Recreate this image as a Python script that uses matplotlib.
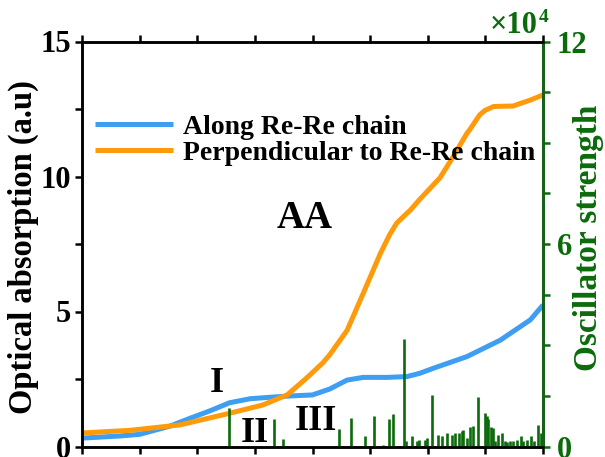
import numpy as np
import matplotlib
matplotlib.use("Agg")
import matplotlib.pyplot as plt
from matplotlib.ticker import MultipleLocator

plt.rcParams['font.family'] = ['Liberation Serif', 'DejaVu Serif']
plt.rcParams['font.weight'] = 'bold'

# absorption spectra (energy in eV, absorption in a.u.)
e_along = [0.0, 0.33, 0.50, 0.76, 0.94, 1.11, 1.28, 1.46, 1.62, 1.80, 2.00,
           2.15, 2.30, 2.44, 2.65, 2.82, 2.93, 3.05, 3.34, 3.63, 3.89, 4.0]
abs_along = [0.31, 0.39, 0.45, 0.75, 1.05, 1.32, 1.62, 1.77, 1.82, 1.87, 1.91,
             2.13, 2.46, 2.56, 2.56, 2.59, 2.71, 2.90, 3.33, 3.94, 4.69, 5.24]

e_perp = [0.0, 0.42, 0.85, 1.28, 1.57, 1.78, 1.95, 2.09, 2.15, 2.30, 2.44, 2.59,
          2.67, 2.73, 2.785, 2.85, 2.93, 3.02, 3.106, 3.22, 3.34, 3.367, 3.45,
          3.497, 3.57, 3.627, 3.74, 3.80, 3.89, 3.93, 4.0]
abs_perp = [0.50, 0.60, 0.80, 1.23, 1.54, 1.91, 2.54, 3.10, 3.40, 4.30, 5.67, 7.16,
            7.85, 8.27, 8.50, 8.76, 9.15, 9.56, 9.95, 10.73, 11.60, 11.75, 12.28,
            12.45, 12.59, 12.60, 12.61, 12.70, 12.83, 12.90, 13.02]

# oscillator strengths (x 1e4)
e_osc = [1.276, 1.662, 1.747, 2.234, 2.331, 2.458, 2.534, 2.611, 2.660, 2.699,
         2.792, 2.814, 2.861, 2.904, 2.927, 2.976, 2.991, 3.034, 3.092, 3.121,
         3.164, 3.208, 3.236, 3.274, 3.295, 3.308, 3.338, 3.367, 3.390, 3.439,
         3.497, 3.512, 3.525, 3.546, 3.564, 3.584, 3.612, 3.642, 3.670, 3.690,
         3.714, 3.742, 3.772, 3.807, 3.829, 3.864, 3.896, 3.922, 3.959, 3.980]
f_osc = [1.15, 0.81, 0.22, 0.51, 0.84, 0.32, 0.89, 0.05, 0.81, 0.96,
         3.18, 0.15, 0.30, 0.15, 0.20, 0.20, 0.25, 1.53, 0.35, 0.30,
         0.40, 0.35, 0.40, 0.40, 0.47, 0.49, 0.25, 0.59, 0.61, 1.46,
         0.99, 0.91, 0.81, 0.59, 0.55, 0.15, 0.35, 0.41, 0.15, 0.12,
         0.15, 0.15, 0.20, 0.30, 0.15, 0.20, 0.30, 0.15, 0.64, 0.39]

blue = '#3d9ef2'
orange = '#ff9a0a'
green = '#0b6b0b'

fig = plt.figure(figsize=(6.05, 4.57), dpi=100)
ax = fig.add_axes([82/605, 10.5/457, 461/605, 405/457])

ax.plot(e_along, abs_along, color=blue, lw=3.6, label='Along Re-Re chain',
        solid_capstyle='butt', solid_joinstyle='round')
ax.plot(e_perp, abs_perp, color=orange, lw=3.6, label='Perpendicular to Re-Re chain',
        solid_capstyle='butt', solid_joinstyle='round')
ax.set_xlim(0, 4)
ax.set_ylim(0, 15)
ax.xaxis.set_major_locator(MultipleLocator(0.5))
ax.yaxis.set_major_locator(MultipleLocator(5))
ax.yaxis.set_minor_locator(MultipleLocator(2.5))
ax.tick_params(axis='x', which='both', top=True, direction='out', length=5,
               width=1.8, labelbottom=False)
ax.tick_params(axis='y', which='both', direction='out', length=5, width=1.8,
               labelsize=22, pad=3)
for s in ax.spines.values():
    s.set_linewidth(1.8)
ax.set_ylabel('Optical absorption (a.u)', fontsize=23.5, fontweight='bold')
ax.yaxis.set_label_coords(-0.093, 0.493)

ax.legend(loc='upper left', bbox_to_anchor=(0.028, 0.82), frameon=False,
          fontsize=20, handlelength=2.8, handletextpad=0.36, borderpad=0,
          borderaxespad=0, labelspacing=0.03)

ax.text(1.93, 8.46, 'AA', fontsize=28, fontweight='bold', ha='center', va='center')
ax.text(1.17, 2.35, 'I', fontsize=26, fontweight='bold', ha='center', va='center')
ax.text(1.50, 0.48, 'II', fontsize=26, fontweight='bold', ha='center', va='center')
ax.text(2.03, 0.93, 'III', fontsize=26, fontweight='bold', ha='center', va='center')

ax2 = ax.twinx()
ax2.vlines(e_osc, 0, f_osc, color=green, lw=1.9)
ax2.set_ylim(0, 12)
ax2.yaxis.set_major_locator(MultipleLocator(6))
ax2.yaxis.set_minor_locator(MultipleLocator(1.5))
ax2.tick_params(axis='y', which='both', direction='out', length=5, width=1.8,
                colors=green, labelsize=22, pad=5)
for s in ax2.spines.values():
    s.set_linewidth(1.8)
ax2.spines['right'].set_color(green)
ax2.set_ylabel('Oscillator strength', fontsize=24, fontweight='bold', color=green)
ax2.yaxis.set_label_coords(1.064, 0.515)

# axis multiplier drawn as base plus raised exponent
ax2.text(0.989, 1.021, '×10', transform=ax2.transAxes, fontsize=22,
         fontweight='bold', color=green, ha='right', va='baseline')
ax2.text(0.991, 1.047, '4', transform=ax2.transAxes, fontsize=14,
         fontweight='bold', color=green, ha='left', va='baseline')

fig.savefig('out.png', dpi=100)
